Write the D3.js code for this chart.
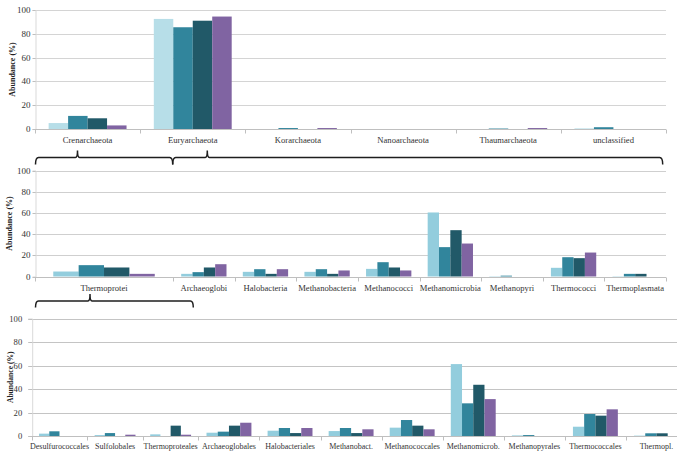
<!DOCTYPE html>
<html>
<head>
<meta charset="utf-8">
<script src="https://cdn.jsdelivr.net/npm/d3@7/dist/d3.min.js"></script>
<style>
  html, body { margin: 0; padding: 0; background: #fff; }
  svg { display: block; }
</style>
</head>
<body>
<svg id="chart" width="683" height="457"></svg>
<script>
// ---------------- DATA ----------------
const seriesKeys = ["s1", "s2", "s3", "s4"];
const yTicks = [0, 20, 40, 60, 80, 100];

const phylumCats = ["Crenarchaeota", "Euryarchaeota", "Korarchaeota", "Nanoarchaeota", "Thaumarchaeota", "unclassified"];
const phylumS1 = [5.0, 92.5, 0, 0, 0, 0.5];
const phylumS2 = [11.0, 85.5, 0.8, 0, 0.4, 1.5];
const phylumS3 = [9.0, 91.0, 0, 0, 0, 0];
const phylumS4 = [3.0, 94.5, 0.8, 0, 0.8, 0];

const classCats = ["Thermoprotei", "Archaeoglobi", "Halobacteria", "Methanobacteria", "Methanococci", "Methanomicrobia", "Methanopyri", "Thermococci", "Thermoplasmata"];
const classS1 = [4.7, 2.5, 4.4, 4.4, 7.2, 60.4, 0.3, 8.2, 0.3];
const classS2 = [10.7, 4.1, 6.9, 6.9, 13.5, 27.7, 0.8, 18.2, 2.5];
const classS3 = [8.5, 8.5, 2.5, 2.5, 8.5, 43.7, 0, 17.3, 2.5];
const classS4 = [2.5, 11.6, 6.9, 5.7, 5.7, 31.1, 0, 22.6, 0];

const orderCats = ["Desulfurococcales", "Sulfolobales", "Thermoproteales", "Archaeoglobales", "Halobacteriales", "Methanobact.", "Methanococcales", "Methanomicrob.", "Methanopyrales", "Thermococcales", "Thermopl."];
const orderS1 = [2.0, 0.8, 1.4, 2.8, 4.5, 4.2, 7.1, 61.2, 0.5, 7.9, 0.3];
const orderS2 = [4.0, 2.5, 0, 3.7, 6.8, 6.8, 13.6, 27.8, 0.8, 18.7, 2.3];
const orderS3 = [0, 0, 8.8, 8.8, 2.5, 2.5, 8.8, 43.6, 0, 17.3, 2.3];
const orderS4 = [0, 1.1, 1.1, 11.3, 6.8, 5.7, 5.7, 31.4, 0, 22.7, 0];

const yTitle = "Abundance (%)";

// ---------------- STYLE ----------------
const FONT = "'Liberation Serif', 'Times New Roman', serif";
const colTeal = "#31859c", colDark = "#215968", colPurple = "#8064a2";

const svg = d3.select("#chart");

function drawPanel(cfg) {
  const g = svg.append("g");
  const y = d3.scaleLinear().domain([0, 100]).range([cfg.bottom, cfg.top]);

  // category band layout from relative weights
  const cum = [0];
  cfg.weights.forEach(w => cum.push(cum[cum.length - 1] + w));
  const xs = d3.scaleLinear().domain([0, cum[cum.length - 1]]).range([cfg.left, cfg.right]);

  // gridlines
  g.append("g").selectAll("line").data(yTicks.filter(t => t > 0)).join("line")
    .attr("x1", cfg.left).attr("x2", cfg.axisEnd)
    .attr("y1", d => Math.round(y(d)) + 0.5).attr("y2", d => Math.round(y(d)) + 0.5)
    .attr("stroke", cfg.gridColor).attr("stroke-width", 1);

  // y axis
  const ya = g.append("g").attr("transform", `translate(${cfg.left + 0.5},0)`)
    .call(d3.axisLeft(y).tickValues(yTicks).tickSize(cfg.tickSize).tickPadding(cfg.tickPad));
  ya.select(".domain").attr("stroke", "#d9d9d9");
  ya.selectAll(".tick line").attr("stroke", "#bfbfbf");
  ya.selectAll(".tick text").attr("font-family", FONT).attr("font-size", cfg.yFont).attr("fill", "#333");
  ya.selectAll(".tick").attr("transform", d => `translate(0,${Math.round(y(d)) + 0.5})`);

  // bars
  const series = cfg.series;
  cfg.cats.forEach((c, i) => {
    const inner = d3.scaleBand().domain(seriesKeys)
      .range([xs(cum[i]), xs(cum[i + 1])]).paddingInner(0).paddingOuter(cfg.outerPad);
    g.append("g").selectAll("rect").data(seriesKeys).join("rect")
      .attr("x", k => inner(k))
      .attr("width", inner.bandwidth())
      .attr("y", (k, j) => y(series[j][i]))
      .attr("height", (k, j) => y(0) - y(series[j][i]))
      .attr("fill", (k, j) => cfg.colors[j]);
  });

  // x axis baseline + ticks
  const base = Math.round(y(0)) + 0.5;
  g.append("line").attr("x1", cfg.left).attr("x2", cfg.axisEnd)
    .attr("y1", base).attr("y2", base).attr("stroke", "#bfbfbf");
  g.append("g").selectAll("line").data(cum.filter(v => xs(v) <= cfg.axisEnd + 1)).join("line")
    .attr("x1", v => Math.round(xs(v)) + 0.5).attr("x2", v => Math.round(xs(v)) + 0.5)
    .attr("y1", base).attr("y2", base + 4).attr("stroke", "#bfbfbf");

  // category labels
  g.append("g").selectAll("text").data(cfg.cats).join("text")
    .attr("x", (c, i) => (xs(cum[i]) + xs(cum[i + 1])) / 2)
    .attr("y", cfg.bottom + cfg.labelDy)
    .attr("text-anchor", "middle")
    .attr("font-family", FONT).attr("font-size", cfg.xFont).attr("fill", "#333")
    .text(d => d);

  // y title
  g.append("text")
    .attr("transform", `translate(${cfg.titleX},${(cfg.top + cfg.bottom) / 2}) rotate(-90)`)
    .attr("text-anchor", "middle")
    .attr("font-family", FONT).attr("font-weight", "bold").attr("font-size", cfg.titleFont)
    .attr("fill", "#222")
    .text(yTitle);

  return xs;
}

drawPanel({
  top: 10, bottom: 129, left: 35, right: 666, axisEnd: 666,
  weights: phylumCats.map(() => 1), cats: phylumCats,
  series: [phylumS1, phylumS2, phylumS3, phylumS4],
  colors: ["#b7dee8", colTeal, colDark, colPurple],
  outerPad: 0.7, gridColor: "#d4d4d4", tickSize: 3, tickPad: 2,
  yFont: "9px", xFont: "8.6px", labelDy: 14, titleX: 15, titleFont: "8px"
});

drawPanel({
  top: 170.5, bottom: 276.5, left: 35, right: 666, axisEnd: 666,
  weights: [2.24, 1, 1, 1, 1, 1, 1, 1, 1], cats: classCats,
  series: [classS1, classS2, classS3, classS4],
  colors: ["#93cddd", colTeal, colDark, colPurple],
  outerPad: 0.72, gridColor: "#cfcfcf", tickSize: 3, tickPad: 2,
  yFont: "9px", xFont: "8.6px", labelDy: 14.5, titleX: 12, titleFont: "8px"
});

drawPanel({
  top: 318.5, bottom: 436, left: 31.7, right: 687, axisEnd: 677,
  weights: [0.91, 0.91, 0.91, 1, 1, 1, 1, 1, 1, 1, 1], cats: orderCats,
  series: [orderS1, orderS2, orderS3, orderS4],
  colors: ["#93cddd", colTeal, colDark, colPurple],
  outerPad: 0.72, gridColor: "#c4c4c4", tickSize: 4, tickPad: 6,
  yFont: "8.6px", xFont: "8px", labelDy: 12.5, titleX: 13, titleFont: "7.6px"
});

// ---------------- BRACKETS (annotations) ----------------
function brace(x1, x2, xt, yy, down, up) {
  return `M${x1},${yy + down} Q${x1},${yy} ${x1 + 3},${yy} L${xt - 2},${yy} Q${xt},${yy} ${xt},${yy - up} ` +
         `Q${xt},${yy} ${xt + 2},${yy} L${x2 - 3},${yy} Q${x2},${yy} ${x2},${yy + down}`;
}
const braces = [
  brace(35.5, 172.7, 77.5, 157.5, 7, 7),
  brace(172.7, 662.7, 207.3, 157.5, 7, 7),
  brace(35.5, 193.3, 90, 301, 6.5, 7)
];
svg.append("g").selectAll("path").data(braces).join("path")
  .attr("d", d => d).attr("fill", "none").attr("stroke", "#1e1e1e").attr("stroke-width", 1.5);
</script>
</body>
</html>
